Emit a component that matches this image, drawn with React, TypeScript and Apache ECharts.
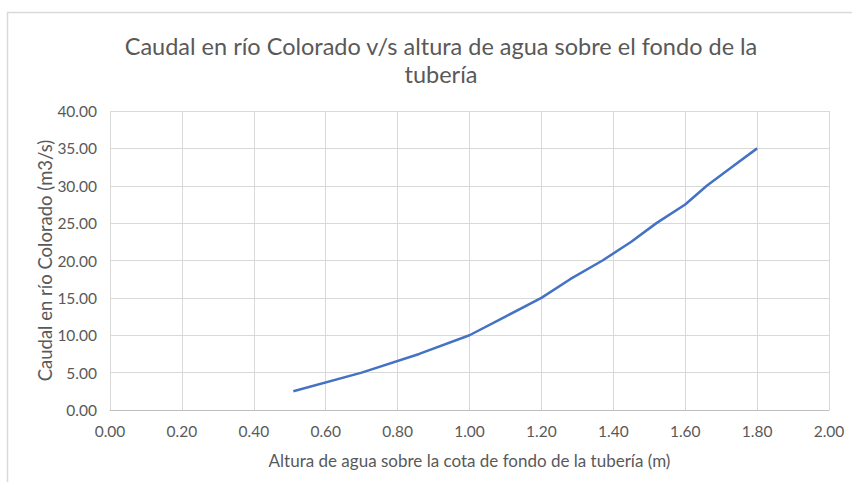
import React, { useEffect, useRef } from "react";
import * as echarts from "echarts";

const alturas = [0.51, 0.70, 0.86, 1.00, 1.10, 1.20, 1.28, 1.37, 1.45, 1.52, 1.60, 1.66, 1.73, 1.80];
const caudales = [2.5, 5.0, 7.5, 10.0, 12.5, 15.0, 17.5, 20.0, 22.5, 25.0, 27.5, 30.0, 32.5, 35.0];

const titulo = "Caudal en río Colorado v/s altura de agua sobre el fondo de la\ntubería";
const tituloX = "Altura de agua sobre la cota de fondo de la tubería (m)";
const tituloY = "Caudal en río Colorado (m3/s)";

const FONT = "Lato, 'Open Sans', sans-serif";
const TEXT = "#595959";

export default function App() {
  const ref = useRef<HTMLDivElement>(null);
  useEffect(() => {
    if (!ref.current) return;
    const chart = echarts.init(ref.current, undefined, { renderer: "svg" });
    chart.setOption({
      animation: false,
      backgroundColor: "#ffffff",
      title: {
        text: titulo,
        left: 436,
        textAlign: "center",
        top: 27,
        textStyle: { fontFamily: FONT, fontSize: 23.5, fontWeight: "normal", color: TEXT, lineHeight: 28 },
      },
      graphic: [
        { type: "line", shape: { x1: 7.5, y1: 12, x2: 7.5, y2: 482 }, style: { stroke: "#d9d9d9", lineWidth: 1.5 } },
        { type: "line", shape: { x1: 7, y1: 12.5, x2: 852, y2: 12.5 }, style: { stroke: "#d9d9d9", lineWidth: 1.5 } },
      ],
      grid: { left: 110, right: 23, top: 111, bottom: 72, containLabel: false },
      xAxis: {
        type: "value",
        min: 0,
        max: 2,
        interval: 0.2,
        name: tituloX,
        nameLocation: "middle",
        nameGap: 42,
        nameMoveOverlap: false,
        nameTextStyle: { fontFamily: FONT, fontSize: 17, color: TEXT },
        axisLine: { show: true, lineStyle: { color: "#bfbfbf", width: 1 } },
        axisTick: { show: false },
        axisLabel: { formatter: (v: number) => v.toFixed(2), fontFamily: FONT, fontSize: 15.5, color: TEXT, margin: 13 },
        splitLine: { show: true, lineStyle: { color: "#d9d9d9", width: 1 } },
      },
      yAxis: {
        type: "value",
        min: 0,
        max: 40,
        interval: 5,
        name: tituloY,
        nameLocation: "middle",
        nameGap: 56,
        nameMoveOverlap: false,
        nameRotate: 90,
        nameTextStyle: { fontFamily: FONT, fontSize: 18.5, color: TEXT },
        axisLine: { show: false },
        axisTick: { show: false },
        axisLabel: { formatter: (v: number) => v.toFixed(2), fontFamily: FONT, fontSize: 15.5, color: TEXT, margin: 13 },
        splitLine: { show: true, lineStyle: { color: "#d9d9d9", width: 1 } },
      },
      series: [
        {
          type: "line",
          data: alturas.map((x, i) => [x, caudales[i]]),
          showSymbol: false,
          symbol: "none",
          smooth: false,
          lineStyle: { color: "#4472C4", width: 2.5 },
        },
      ],
    });
    return () => chart.dispose();
  }, []);
  return <div ref={ref} style={{ width: 852, height: 482, position: "absolute", left: 0, top: 0 }} />;
}
